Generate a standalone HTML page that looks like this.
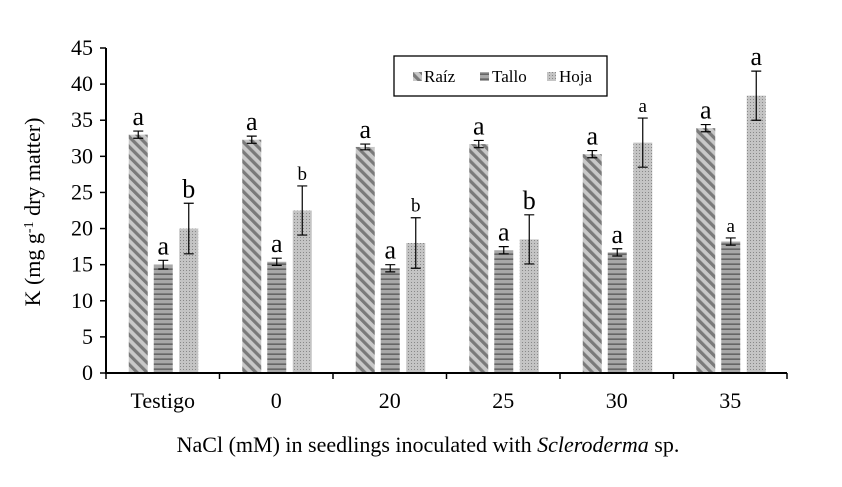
<!DOCTYPE html>
<html><head><meta charset="utf-8"><style>body{margin:0;background:#fff;position:relative}svg{display:block}</style></head>
<body>
<svg id="chart" width="842" height="487" xmlns="http://www.w3.org/2000/svg" font-family="Liberation Serif, serif">
<defs>
<pattern id="pDiag" width="7" height="7" patternUnits="userSpaceOnUse" patternTransform="rotate(-45)"><rect width="7" height="7" fill="#c8c8c8"/><rect width="3.2" height="7" fill="#7a7a7a"/></pattern>
<pattern id="pHor" width="6" height="5" patternUnits="userSpaceOnUse"><rect width="6" height="5" fill="#a8a8a8"/><rect y="3.5" width="6" height="1.3" fill="#555"/></pattern>
<pattern id="pDot" width="3" height="3" patternUnits="userSpaceOnUse"><rect width="3" height="3" fill="#c4c4c4"/><rect width="1" height="1" fill="#888"/></pattern>
</defs>
<g id="plot"></g>
</svg>
<script>
const categories=["Testigo","0","20","25","30","35"];
const raiz=[33,32.3,31.3,31.7,30.3,33.9];
const tallo=[15,15.4,14.5,17,16.7,18.2];
const hoja=[20,22.5,18,18.5,31.9,38.4];
const raizErr=[0.5,0.5,0.4,0.5,0.5,0.5];
const talloErr=[0.6,0.5,0.5,0.5,0.5,0.5];
const hojaErr=[3.5,3.4,3.5,3.4,3.4,3.4];
const raizLet=["a","a","a","a","a","a"];
const talloLet=["a","a","a","a","a","a"];
const hojaLet=["b","b","b","b","a","a"];
const talloSmall=[false,false,false,false,false,true];
const hojaSmall=[false,true,true,false,true,false];
const yTicks=[0,5,10,15,20,25,30,35,40,45];
const NS="http://www.w3.org/2000/svg";
const g=document.getElementById('plot');
const x0=106,x1=787,y0=373,yTop=48,yMax=45;
const gw=(x1-x0)/categories.length;
const y=v=>y0-(v/yMax)*(y0-yTop);
function mk(t,a,p){const e=document.createElementNS(NS,t);for(const k in a)e.setAttribute(k,a[k]);(p||g).appendChild(e);return e;}
const series=[{v:raiz,e:raizErr,l:raizLet,f:"url(#pDiag)",off:-24.5,n:"raiz",s:null},{v:tallo,e:talloErr,l:talloLet,f:"url(#pHor)",off:0.5,n:"tallo",s:talloSmall},{v:hoja,e:hojaErr,l:hojaLet,f:"url(#pDot)",off:26,n:"hoja",s:hojaSmall}];
categories.forEach((c,i)=>{
 const cx=x0+gw*(i+0.5);
 series.forEach(s=>{
  const bx=cx+s.off-9.5,v=s.v[i];
  const r=mk('rect',{x:bx,y:y(v),width:19,height:y0-y(v),fill:s.f});
  
  
  const mx=cx+s.off,top=y(v+s.e[i]),bot=y(v-s.e[i]);
  const eb=mk('path',{d:`M${mx},${top}V${bot}M${mx-5},${top}H${mx+5}M${mx-5},${bot}H${mx+5}`,stroke:'#000','stroke-width':1.2,fill:'none'});
  
  
  const small=s.s&&s.s[i];
  const t=mk('text',{x:mx,y:top-6,'text-anchor':'middle','font-size':small?19:26});
  t.textContent=s.l[i];
  
  
 });
 const lb=mk('text',{x:cx,y:408,'text-anchor':'middle','font-size':22});
 lb.textContent=c;
 
 
});
for(let i=0;i<=categories.length;i++){const tx=x0+gw*i;const tk=mk('line',{x1:tx,x2:tx,y1:y0,y2:y0+6,stroke:'#000','stroke-width':1.5});}
yTicks.forEach(v=>{
 const tk=mk('line',{x1:x0-6,x2:x0,y1:y(v),y2:y(v),stroke:'#000','stroke-width':1.5});
 
 
 const t=mk('text',{x:x0-13,y:y(v)+7,'text-anchor':'end','font-size':22});
 t.textContent=v;
 
 
});
const ax=mk('path',{d:`M${x0},${yTop}V${y0}H${x1}`,stroke:'#000','stroke-width':2,fill:'none'});


</script>
<svg style="position:absolute;left:0;top:0" width="842" height="487" xmlns="http://www.w3.org/2000/svg" font-family="Liberation Serif, serif">
<g>
<rect x="394" y="56" width="213" height="40" fill="#fff" stroke="#000" stroke-width="1.3"/>
<rect x="413" y="72" width="9" height="9" fill="url(#pDiag)"/>
<text x="424" y="82" font-size="17">Raíz</text>
<rect x="480" y="72" width="9" height="9" fill="url(#pHor)"/>
<text x="492" y="82" font-size="17">Tallo</text>
<rect x="547" y="72" width="9" height="9" fill="url(#pDot)"/>
<text x="559" y="82" font-size="17">Hoja</text>
</g>
<text transform="translate(40,212) rotate(-90)" text-anchor="middle" font-size="22">K (mg g<tspan baseline-shift="super" font-size="14">-1</tspan> dry matter)</text>
<text x="428" y="452" text-anchor="middle" font-size="22">NaCl (mM) in seedlings inoculated with <tspan font-style="italic">Scleroderma</tspan> sp.</text>
</svg>
</body></html>
